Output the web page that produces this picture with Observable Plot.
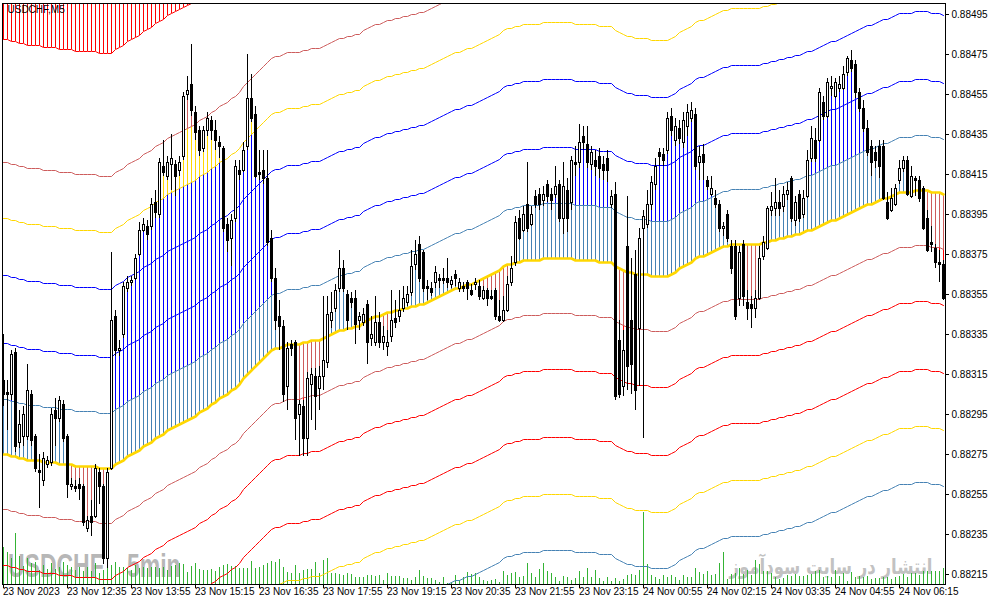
<!DOCTYPE html>
<html><head><meta charset="utf-8">
<script src="https://cdn.jsdelivr.net/npm/d3@7"></script>
<script src="https://cdn.jsdelivr.net/npm/@observablehq/plot@0.6"></script>
<style>html,body{margin:0;padding:0;background:#fff}</style>
</head><body><div id="chart"></div>
<script>
const title = "USDCHF,M5";
const watermarkSymbol = "USDCHF";
const watermarkPeriod = "5min";
const watermarkSite = "انتشار در سایت سودآموز";

const open = [
0.88312,0.88306,0.88305,0.88326,0.88281,0.88284,0.88284,0.88305,0.88284,0.88267,
0.88262,0.88270,0.88271,0.88297,0.88293,0.88300,0.88284,0.88259,0.88259,0.88260,
0.88259,0.88238,0.88244,0.88244,0.88266,0.88259,0.88223,0.88268,0.88344,0.88327,
0.88335,0.88358,0.88361,0.88363,0.88375,0.88387,0.88389,0.88389,0.88401,0.88395,
0.88419,0.88414,0.88420,0.88420,0.88417,0.88424,0.88455,0.88460,0.88446,0.88437,
0.88428,0.88437,0.88442,0.88437,0.88431,0.88428,0.88390,0.88383,0.88393,0.88417,
0.88417,0.88429,0.88453,0.88445,0.88416,0.88417,0.88413,0.88383,0.88363,0.88344,
0.88339,0.88309,0.88330,0.88331,0.88295,0.88299,0.88283,0.88310,0.88314,0.88308,
0.88314,0.88321,0.88342,0.88348,0.88358,0.88368,0.88355,0.88353,0.88353,0.88342,
0.88341,0.88350,0.88333,0.88331,0.88341,0.88331,0.88329,0.88334,0.88343,0.88344,
0.88348,0.88351,0.88356,0.88370,0.88380,0.88376,0.88359,0.88358,0.88361,0.88363,
0.88363,0.88363,0.88360,0.88365,0.88358,0.88359,0.88361,0.88357,0.88360,0.88359,
0.88353,0.88357,0.88354,0.88357,0.88344,0.88342,0.88347,0.88361,0.88371,0.88393,
0.88387,0.88400,0.88390,0.88404,0.88405,0.88402,0.88410,0.88405,0.88405,0.88410,
0.88393,0.88407,0.88401,0.88421,0.88421,0.88434,0.88430,0.88420,0.88422,0.88424,
0.88420,0.88423,0.88400,0.88405,0.88332,0.88309,0.88379,0.88342,0.88365,0.88338,
0.88388,0.88390,0.88400,0.88410,0.88426,0.88425,0.88427,0.88444,0.88432,0.88438,
0.88431,0.88439,0.88443,0.88445,0.88421,0.88425,0.88412,0.88405,0.88403,0.88400,
0.88388,0.88395,0.88379,0.88379,0.88353,0.88380,0.88351,0.88350,0.88348,0.88353,
0.88374,0.88378,0.88397,0.88398,0.88401,0.88399,0.88405,0.88413,0.88392,0.88405,
0.88395,0.88404,0.88423,0.88432,0.88432,0.88451,0.88444,0.88458,0.88454,0.88458,
0.88458,0.88466,0.88472,0.88470,0.88456,0.88448,0.88438,0.88429,0.88426,0.88429,
0.88429,0.88401,0.88397,0.88400,0.88412,0.88418,0.88422,0.88404,0.88413,0.88412,
0.88408,0.88393,0.88381,0.88378,0.88371,0.88370];

const high = [
0.88335,0.88312,0.88327,0.88328,0.88297,0.88299,0.88320,0.88307,0.88285,0.88275,
0.88276,0.88274,0.88298,0.88303,0.88304,0.88302,0.88285,0.88263,0.88262,0.88263,
0.88260,0.88244,0.88252,0.88270,0.88268,0.88260,0.88268,0.88376,0.88347,0.88332,
0.88361,0.88364,0.88364,0.88375,0.88391,0.88393,0.88392,0.88403,0.88407,0.88423,
0.88432,0.88424,0.88435,0.88422,0.88424,0.88456,0.88464,0.88480,0.88449,0.88439,
0.88439,0.88446,0.88444,0.88442,0.88434,0.88429,0.88393,0.88395,0.88422,0.88422,
0.88431,0.88475,0.88465,0.88449,0.88427,0.88427,0.88427,0.88387,0.88368,0.88352,
0.88342,0.88331,0.88332,0.88332,0.88302,0.88302,0.88316,0.88318,0.88318,0.88319,
0.88354,0.88354,0.88356,0.88360,0.88377,0.88372,0.88357,0.88356,0.88357,0.88346,
0.88348,0.88352,0.88344,0.88354,0.88346,0.88339,0.88337,0.88357,0.88352,0.88357,
0.88359,0.88359,0.88377,0.88382,0.88384,0.88377,0.88362,0.88361,0.88369,0.88365,
0.88368,0.88373,0.88364,0.88367,0.88363,0.88361,0.88362,0.88360,0.88363,0.88362,
0.88359,0.88358,0.88357,0.88358,0.88352,0.88354,0.88364,0.88374,0.88394,0.88397,
0.88399,0.88421,0.88399,0.88407,0.88408,0.88409,0.88412,0.88408,0.88419,0.88412,
0.88421,0.88413,0.88424,0.88429,0.88440,0.88439,0.88439,0.88429,0.88427,0.88428,
0.88424,0.88427,0.88407,0.88411,0.88342,0.88337,0.88404,0.88373,0.88377,0.88388,
0.88397,0.88407,0.88414,0.88423,0.88428,0.88428,0.88446,0.88448,0.88443,0.88442,
0.88446,0.88450,0.88451,0.88448,0.88429,0.88430,0.88414,0.88414,0.88407,0.88402,
0.88391,0.88397,0.88382,0.88382,0.88379,0.88382,0.88357,0.88354,0.88357,0.88379,
0.88384,0.88399,0.88406,0.88413,0.88407,0.88409,0.88411,0.88414,0.88404,0.88407,
0.88407,0.88427,0.88439,0.88438,0.88458,0.88454,0.88463,0.88464,0.88463,0.88464,
0.88469,0.88474,0.88477,0.88472,0.88458,0.88452,0.88442,0.88432,0.88429,0.88432,
0.88432,0.88406,0.88408,0.88410,0.88422,0.88424,0.88424,0.88419,0.88414,0.88414,
0.88409,0.88397,0.88389,0.88380,0.88377,0.88372];

const low = [
0.88299,0.88287,0.88302,0.88276,0.88278,0.88279,0.88282,0.88279,0.88266,0.88248,
0.88259,0.88268,0.88269,0.88279,0.88291,0.88281,0.88253,0.88257,0.88256,0.88252,
0.88239,0.88236,0.88234,0.88243,0.88250,0.88220,0.88218,0.88267,0.88324,0.88324,
0.88333,0.88356,0.88359,0.88362,0.88374,0.88386,0.88382,0.88387,0.88393,0.88393,
0.88414,0.88412,0.88407,0.88404,0.88414,0.88422,0.88452,0.88444,0.88432,0.88424,
0.88426,0.88434,0.88432,0.88427,0.88423,0.88386,0.88376,0.88369,0.88391,0.88412,
0.88416,0.88427,0.88441,0.88413,0.88412,0.88410,0.88379,0.88361,0.88337,0.88327,
0.88301,0.88297,0.88324,0.88282,0.88274,0.88274,0.88274,0.88292,0.88287,0.88297,
0.88307,0.88318,0.88338,0.88346,0.88356,0.88356,0.88337,0.88348,0.88330,0.88337,
0.88339,0.88320,0.88329,0.88329,0.88328,0.88327,0.88324,0.88331,0.88338,0.88341,
0.88346,0.88349,0.88354,0.88367,0.88361,0.88356,0.88352,0.88354,0.88358,0.88358,
0.88360,0.88358,0.88358,0.88359,0.88356,0.88356,0.88352,0.88354,0.88357,0.88352,
0.88352,0.88349,0.88352,0.88342,0.88341,0.88341,0.88346,0.88359,0.88369,0.88382,
0.88386,0.88386,0.88389,0.88398,0.88397,0.88399,0.88401,0.88397,0.88403,0.88391,
0.88385,0.88386,0.88397,0.88414,0.88418,0.88427,0.88418,0.88417,0.88414,0.88413,
0.88412,0.88411,0.88398,0.88302,0.88303,0.88304,0.88307,0.88305,0.88297,0.88309,
0.88283,0.88388,0.88397,0.88407,0.88419,0.88419,0.88425,0.88434,0.88429,0.88430,
0.88428,0.88434,0.88441,0.88417,0.88412,0.88412,0.88407,0.88404,0.88398,0.88386,
0.88384,0.88381,0.88365,0.88342,0.88349,0.88349,0.88342,0.88338,0.88343,0.88352,
0.88372,0.88377,0.88394,0.88394,0.88394,0.88396,0.88402,0.88391,0.88389,0.88391,
0.88393,0.88403,0.88421,0.88421,0.88431,0.88442,0.88443,0.88454,0.88453,0.88456,
0.88457,0.88464,0.88466,0.88453,0.88446,0.88436,0.88424,0.88414,0.88418,0.88413,
0.88402,0.88392,0.88396,0.88399,0.88410,0.88416,0.88404,0.88403,0.88404,0.88401,
0.88387,0.88376,0.88376,0.88368,0.88361,0.88352];

const close = [
0.88305,0.88305,0.88325,0.88279,0.88290,0.88295,0.88307,0.88282,0.88268,0.88266,
0.88273,0.88272,0.88295,0.88293,0.88302,0.88283,0.88260,0.88260,0.88258,0.88258,
0.88241,0.88242,0.88241,0.88268,0.88259,0.88223,0.88266,0.88342,0.88327,0.88328,
0.88359,0.88361,0.88362,0.88373,0.88387,0.88390,0.88385,0.88400,0.88396,0.88421,
0.88416,0.88421,0.88423,0.88414,0.88421,0.88454,0.88457,0.88447,0.88436,0.88427,
0.88437,0.88443,0.88437,0.88432,0.88429,0.88388,0.88382,0.88392,0.88419,0.88415,
0.88427,0.88453,0.88443,0.88414,0.88415,0.88413,0.88381,0.88363,0.88342,0.88339,
0.88305,0.88328,0.88328,0.88293,0.88300,0.88283,0.88313,0.88315,0.88304,0.88314,
0.88322,0.88345,0.88346,0.88357,0.88368,0.88358,0.88342,0.88351,0.88340,0.88344,
0.88345,0.88331,0.88335,0.88341,0.88331,0.88334,0.88331,0.88342,0.88341,0.88347,
0.88353,0.88355,0.88369,0.88375,0.88363,0.88358,0.88358,0.88356,0.88366,0.88362,
0.88362,0.88361,0.88362,0.88363,0.88361,0.88358,0.88358,0.88355,0.88361,0.88354,
0.88357,0.88353,0.88353,0.88344,0.88342,0.88347,0.88360,0.88368,0.88391,0.88383,
0.88395,0.88388,0.88395,0.88400,0.88400,0.88405,0.88404,0.88402,0.88409,0.88393,
0.88409,0.88393,0.88422,0.88420,0.88431,0.88431,0.88421,0.88426,0.88419,0.88418,
0.88417,0.88417,0.88404,0.88304,0.88305,0.88327,0.88319,0.88320,0.88307,0.88383,
0.88394,0.88400,0.88411,0.88419,0.88424,0.88422,0.88443,0.88437,0.88439,0.88433,
0.88442,0.88446,0.88447,0.88419,0.88424,0.88421,0.88409,0.88408,0.88400,0.88388,
0.88389,0.88383,0.88368,0.88344,0.88376,0.88354,0.88348,0.88348,0.88353,0.88373,
0.88381,0.88398,0.88399,0.88401,0.88398,0.88405,0.88407,0.88393,0.88401,0.88393,
0.88403,0.88422,0.88433,0.88423,0.88456,0.88444,0.88461,0.88459,0.88461,0.88460,
0.88465,0.88473,0.88468,0.88456,0.88448,0.88438,0.88426,0.88421,0.88422,0.88419,
0.88403,0.88393,0.88403,0.88408,0.88418,0.88422,0.88405,0.88414,0.88412,0.88403,
0.88388,0.88377,0.88380,0.88371,0.88370,0.88353];

// centre moving average of the envelope indicator
const center = [
0.88275,0.88275,0.88274,0.88274,0.88273,0.88273,0.88272,0.88272,0.88272,0.88272,
0.88271,0.88271,0.88271,0.88271,0.88270,0.88270,0.88270,0.88270,0.88269,0.88269,
0.88269,0.88269,0.88269,0.88269,0.88268,0.88268,0.88268,0.88268,0.88270,0.88271,
0.88272,0.88274,0.88275,0.88276,0.88277,0.88279,0.88280,0.88281,0.88283,0.88284,
0.88285,0.88287,0.88288,0.88289,0.88290,0.88291,0.88292,0.88293,0.88294,0.88296,
0.88297,0.88298,0.88300,0.88301,0.88303,0.88304,0.88305,0.88307,0.88308,0.88310,
0.88313,0.88315,0.88317,0.88319,0.88321,0.88323,0.88325,0.88327,0.88328,0.88328,
0.88329,0.88330,0.88330,0.88330,0.88330,0.88331,0.88331,0.88332,0.88332,0.88332,
0.88333,0.88334,0.88335,0.88336,0.88337,0.88337,0.88338,0.88338,0.88339,0.88339,
0.88341,0.88342,0.88343,0.88344,0.88344,0.88345,0.88346,0.88346,0.88347,0.88347,
0.88348,0.88348,0.88349,0.88349,0.88350,0.88350,0.88351,0.88352,0.88353,0.88354,
0.88355,0.88356,0.88357,0.88358,0.88358,0.88359,0.88360,0.88360,0.88361,0.88362,
0.88363,0.88364,0.88365,0.88366,0.88367,0.88369,0.88370,0.88370,0.88371,0.88371,
0.88372,0.88372,0.88372,0.88372,0.88372,0.88373,0.88373,0.88373,0.88373,0.88373,
0.88373,0.88373,0.88373,0.88372,0.88372,0.88372,0.88372,0.88372,0.88372,0.88371,
0.88371,0.88371,0.88371,0.88369,0.88368,0.88367,0.88366,0.88366,0.88365,0.88365,
0.88365,0.88365,0.88364,0.88364,0.88364,0.88364,0.88364,0.88365,0.88366,0.88368,
0.88369,0.88370,0.88371,0.88373,0.88374,0.88374,0.88375,0.88376,0.88377,0.88378,
0.88379,0.88379,0.88380,0.88380,0.88380,0.88380,0.88380,0.88380,0.88380,0.88380,
0.88381,0.88381,0.88382,0.88382,0.88383,0.88383,0.88384,0.88384,0.88385,0.88385,
0.88386,0.88387,0.88387,0.88388,0.88389,0.88390,0.88391,0.88392,0.88392,0.88393,
0.88394,0.88395,0.88396,0.88397,0.88398,0.88399,0.88400,0.88400,0.88401,0.88402,
0.88403,0.88403,0.88404,0.88405,0.88406,0.88406,0.88406,0.88406,0.88407,0.88407,
0.88407,0.88407,0.88406,0.88406,0.88406,0.88405];

const volume = [
37,32,26,51,28,18,26,21,22,14, 19,15,21,15,17,22,19,17,14,17,
13,17,13,21,11,14,27,19,22,17, 17,16,14,19,16,17,16,17,17,16,
17,14,18,19,21,20,12,18,21,15, 14,14,15,13,17,19,20,18,18,16,
16,16,23,16,17,19,21,23,22,25, 17,12,11,19,11,14,15,15,22,11,
24,26,11,11,10,9,11,10,7,7, 7,9,9,8,9,4,11,8,8,8,
6,6,4,7,14,8,6,6,4,2, 7,1,2,9,4,7,12,10,11,7,
4,3,4,5,2,13,9,11,12,7, 8,21,11,7,15,21,13,11,7,3,
8,7,4,6,13,7,16,7,14,6, 3,7,3,6,3,5,9,10,9,14,
72,20,9,7,5,9,7,9,7,4, 9,7,7,16,12,10,13,9,10,21,
32,5,10,11,16,10,14,9,24,20, 13,13,11,7,5,6,9,8,10,8,
8,9,10,13,14,7,8,7,14,8, 11,3,12,7,8,7,8,5,6,6,
7,7,5,7,8,10,7,11,11,9, 13,13,13,13,13,16];

// envelope distances from the centre line (price units)
const bandOffsets = [0.000275, 0.000555, 0.000895, 0.00118, 0.00146, 0.002075];
const upperBandColors = ["steelblue", "blue", "blue", "gold", "indianred", "red"];
const lowerBandColors = ["indianred", "red", "red", "gold", "steelblue"];

const xTickBars = [0, 16, 32, 48, 64, 80, 96, 112, 128, 144, 160, 176, 192, 208, 224];
const xTickLabels = ["23 Nov 2023", "23 Nov 12:35", "23 Nov 13:55", "23 Nov 15:15", "23 Nov 16:35",
  "23 Nov 17:55", "23 Nov 19:15", "23 Nov 20:35", "23 Nov 21:55", "23 Nov 23:15",
  "24 Nov 00:55", "24 Nov 02:15", "24 Nov 03:35", "24 Nov 04:55", "24 Nov 06:15"];
const yTicks = [0.88215, 0.88235, 0.88255, 0.88275, 0.88295, 0.88315, 0.88335, 0.88355,
  0.88375, 0.88395, 0.88415, 0.88435, 0.88455, 0.88475, 0.88495];

const yMin = 0.88210, yMax = 0.885005;
const N = close.length;
const bars = d3.range(N).map(i => ({i, o: open[i], h: high[i], l: low[i], c: close[i], m: center[i], v: volume[i]}));

const B = bandOffsets;
const upZones = [[0, B[0], "steelblue"], [B[0], B[3], "blue"], [B[3], B[4], "gold"], [B[4], Infinity, "indianred"]];
const dnZones = [[0, B[0], "indianred"], [B[0], Infinity, "red"]];
const hatch = [];
for (const b of bars) {
  const d = b.c - b.m, s = d >= 0 ? 1 : -1, a = Math.abs(d);
  for (const [lo, hi, col] of (d >= 0 ? upZones : dnZones)) {
    if (a > lo) hatch.push({i: b.i, y1: b.m + s * lo, y2: b.m + s * Math.min(a, hi), col});
  }
}
const topHatch = bars.filter(b => b.m + B[5] < yMax).map(b => ({i: b.i, y1: b.m + B[5], y2: yMax}));

const volY = d3.scaleLinear([0, 100], [yMin, yMin + 0.0005]);

const bandMarks = [];
B.forEach((off, k) => {
  bandMarks.push(Plot.line(bars, {x: "i", y: d => d.m + off, stroke: upperBandColors[k], strokeWidth: 1, clip: true}));
  if (lowerBandColors[k]) bandMarks.push(Plot.line(bars, {x: "i", y: d => d.m - off, stroke: lowerBandColors[k], strokeWidth: 1, clip: true}));
});

const bull = bars.filter(b => b.c - b.o > 1e-7);
const bear = bars.filter(b => b.o - b.c > 1e-7);
const doji = bars.filter(b => Math.abs(b.c - b.o) <= 1e-7);

const crisp = {shapeRendering: "crispEdges"};
const plot = Plot.plot({
  width: 991, height: 605,
  marginLeft: 2, marginRight: 46, marginTop: 3, marginBottom: 21,
  x: {domain: [-0.25, 235.5], axis: null},
  y: {domain: [yMin, yMax], axis: null},
  color: {type: "identity"},
  style: {background: "white", fontFamily: "'Liberation Sans', Arial, sans-serif", fontSize: "10px", color: "black", overflow: "visible"},
  marks: [
    Plot.ruleX(bars, {x: "i", y1: yMin, y2: d => volY(d.v), stroke: "#34b334", strokeWidth: 1, ...crisp}),
    Plot.ruleX(topHatch, {x: "i", y1: "y1", y2: "y2", stroke: "red", strokeWidth: 1, clip: true, ...crisp}),
    Plot.ruleX(hatch, {x: "i", y1: "y1", y2: "y2", stroke: "col", strokeWidth: 1, clip: true, ...crisp}),
    ...bandMarks,
    Plot.line(bars, {x: "i", y: "m", stroke: "gold", strokeWidth: 2.6, clip: true}),
    Plot.ruleX(bars, {x: "i", y1: "l", y2: "h", stroke: "black", strokeWidth: 1, ...crisp}),
    Plot.rect(bull, {x1: d => d.i - 0.25, x2: d => d.i + 0.25, y1: "o", y2: "c", fill: "white", stroke: "black", strokeWidth: 1, ...crisp}),
    Plot.rect(bear, {x1: d => d.i - 0.25, x2: d => d.i + 0.25, y1: "o", y2: "c", fill: "black", stroke: "black", strokeWidth: 1, ...crisp}),
    Plot.ruleY(doji, {y: "c", x1: d => d.i - 0.375, x2: d => d.i + 0.375, stroke: "black", ...crisp}),
    Plot.frame({stroke: "black", ...crisp}),
    Plot.ruleY(yTicks, {y: d => d, x1: 235.5, x2: 236.5, stroke: "black", ...crisp}),
    Plot.text(yTicks, {y: d => d, text: d => d.toFixed(5), frameAnchor: "right", dx: 6, textAnchor: "start", fill: "black", fontSize: 10}),
    Plot.ruleX(xTickBars, {x: d => d, y1: yMin, y2: yMin - 0.00002, stroke: "black", ...crisp}),
    Plot.text(xTickBars, {x: d => d, text: (d, k) => xTickLabels[k], frameAnchor: "bottom", dy: 3, dx: -0.5, lineAnchor: "top", textAnchor: "start", fill: "black", fontSize: 10}),
    Plot.text([title], {text: d => d, frameAnchor: "top-left", dx: 5, dy: 2, lineAnchor: "top", textAnchor: "start", fill: "black", fontSize: 10})
  ]
});
document.getElementById("chart").append(plot);

// watermark texts, placed underneath all marks (stretched vertically like the terminal's tall watermark font)
const svg = d3.select(plot);
const wm = svg.insert("g", "g").attr("fill", "#b7b7b7").attr("font-weight", "bold").attr("text-anchor", "start");
wm.append("text").attr("transform", "translate(8,577) scale(1,1.45)")
  .attr("font-family", "'Liberation Sans', Arial, sans-serif").attr("font-size", 23)
  .attr("text-anchor", "start").text(watermarkSymbol);
wm.append("text").attr("transform", "translate(127,577) scale(1,1.45)")
  .attr("font-family", "'Liberation Sans', Arial, sans-serif").attr("font-size", 23)
  .attr("text-anchor", "start").text(watermarkPeriod);
wm.append("text").attr("transform", "translate(831,574) scale(1,1.3)")
  .attr("font-family", "'DejaVu Sans', sans-serif").attr("font-size", 16.5)
  .attr("text-anchor", "middle").attr("fill", "#c2c2c2").text(watermarkSite);
</script>
</body></html>
